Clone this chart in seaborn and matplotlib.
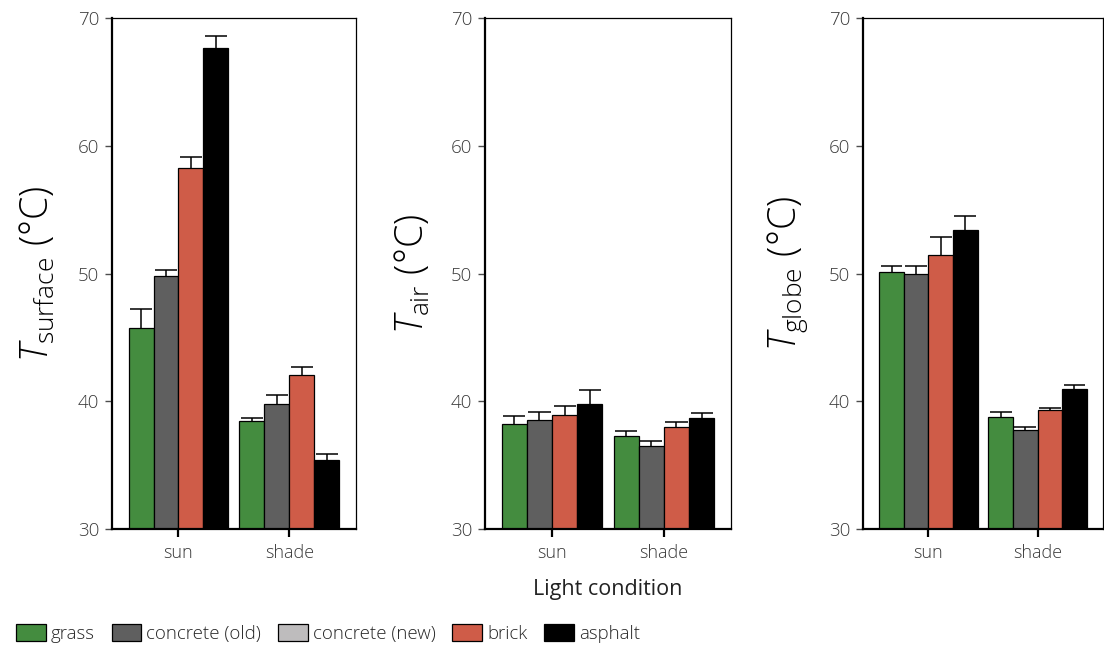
import matplotlib
matplotlib.use("Agg")
import matplotlib.pyplot as plt
from matplotlib.patches import Patch
import seaborn as sns
import pandas as pd

# ---- data ----
conditions = ["sun", "shade"]
surfaces = ["grass", "concrete (old)", "brick", "asphalt"]
legend_surfaces = ["grass", "concrete (old)", "concrete (new)", "brick", "asphalt"]
colors = {"grass": "#448C3F", "concrete (old)": "#5F5F5F", "concrete (new)": "#BEBCBD",
          "brick": "#CF5C48", "asphalt": "#000000"}

# mean values per surface: [sun, shade]
t_surface = {"grass": [45.7, 38.46], "concrete (old)": [49.8, 39.8],
             "brick": [58.27, 42.07], "asphalt": [67.68, 35.39]}
t_surface_err = {"grass": [1.55, 0.2], "concrete (old)": [0.48, 0.73],
                 "brick": [0.86, 0.58], "asphalt": [0.9, 0.48]}

t_air = {"grass": [38.22, 37.30], "concrete (old)": [38.56, 36.52],
         "brick": [38.95, 37.98], "asphalt": [39.82, 38.72]}
t_air_err = {"grass": [0.65, 0.4], "concrete (old)": [0.6, 0.39],
             "brick": [0.71, 0.42], "asphalt": [1.04, 0.39]}

t_globe = {"grass": [50.1, 38.8], "concrete (old)": [49.95, 37.77],
           "brick": [51.47, 39.32], "asphalt": [53.38, 40.97]}
t_globe_err = {"grass": [0.48, 0.36], "concrete (old)": [0.6, 0.19],
               "brick": [1.36, 0.13], "asphalt": [1.1, 0.29]}

yticks = [30, 40, 50, 60, 70]
ylabels = [r"$\mathit{T}_{\mathrm{surface}}\ (°\mathrm{C})$",
           r"$\mathit{T}_{\mathrm{air}}\ (°\mathrm{C})$",
           r"$\mathit{T}_{\mathrm{globe}}\ (°\mathrm{C})$"]
xlabel = "Light condition"

# ---- style ----
FONT = "Open Sans"
sns.set_style("white")
plt.rcParams["font.family"] = [FONT, "DejaVu Sans"]
plt.rcParams["font.weight"] = "light"
plt.rcParams["mathtext.fontset"] = "custom"
plt.rcParams["mathtext.rm"] = FONT + ":light"
plt.rcParams["mathtext.it"] = FONT + ":italic:light"
plt.rcParams["mathtext.bf"] = FONT + ":bold"

fig = plt.figure(figsize=(11.04, 6.48), dpi=100)
positions = [(0.1014, 0.1836, 0.2210, 0.7886),
             (0.4393, 0.1836, 0.2228, 0.7886),
             (0.7817, 0.1836, 0.2174, 0.7886)]
label_pads = [15, 13.5, 13.5]

panels = [(t_surface, t_surface_err), (t_air, t_air_err), (t_globe, t_globe_err)]

for i, ((vals, errs), pos) in enumerate(zip(panels, positions)):
    ax = fig.add_axes(pos)
    rows = []
    for s in surfaces:
        for c, v in zip(conditions, vals[s]):
            rows.append({"condition": c, "surface": s, "value": v})
    df = pd.DataFrame(rows)
    sns.barplot(data=df, x="condition", y="value", hue="surface",
                order=conditions, hue_order=surfaces,
                palette=colors, saturation=1, errorbar=None, width=0.9,
                edgecolor="black", linewidth=0.9, legend=False, ax=ax, zorder=2)
    # error bars (upper only)
    for k, s in enumerate(surfaces):
        cont = ax.containers[k]
        for j, bar in enumerate(cont):
            xc = bar.get_x() + bar.get_width() / 2
            hw = bar.get_width() * 0.44
            top = bar.get_height()
            up = top + errs[s][j]
            ax.vlines(xc, top, up, color="black", linewidth=1.1, zorder=1)
            ax.hlines(up, xc - hw, xc + hw, color="black", linewidth=1.1, zorder=1)
    ax.set_ylim(30, 70)
    ax.set_xlim(-0.6, 1.6)
    ax.set_yticks(yticks)
    ax.set_yticklabels([str(t) for t in yticks], fontsize=13.5, color="#3A3A3A")
    ax.tick_params(axis="y", length=5, width=1.0, color="#4D4D4D", pad=4,
                   left=True, direction="out")
    ax.tick_params(axis="x", length=6, width=1.6, color="black", pad=5,
                   labelsize=13, labelcolor="#3A3A3A", bottom=True, direction="out")
    for side in ["left", "bottom"]:
        ax.spines[side].set_linewidth(1.6)
        ax.spines[side].set_color("black")
    for side in ["top", "right"]:
        ax.spines[side].set_visible(True)
        ax.spines[side].set_linewidth(0.9)
        ax.spines[side].set_color("black")
    ax.set_ylabel(ylabels[i], fontsize=27, color="black", labelpad=label_pads[i])
    if i == 1:
        ax.set_xlabel(xlabel, fontsize=15.5, color="#222222", labelpad=12)
    else:
        ax.set_xlabel("")

handles = [Patch(facecolor=colors[s], edgecolor="black", linewidth=0.9, label=s)
           for s in legend_surfaces]
fig.legend(handles=handles, loc="center left", bbox_to_anchor=(0.0145, 0.022),
           ncol=5, frameon=False, fontsize=13.4, handlelength=1.6,
           handleheight=1.0, handletextpad=0.27, columnspacing=0.9,
           borderaxespad=0, borderpad=0)

fig.savefig("out.png", dpi=100)
